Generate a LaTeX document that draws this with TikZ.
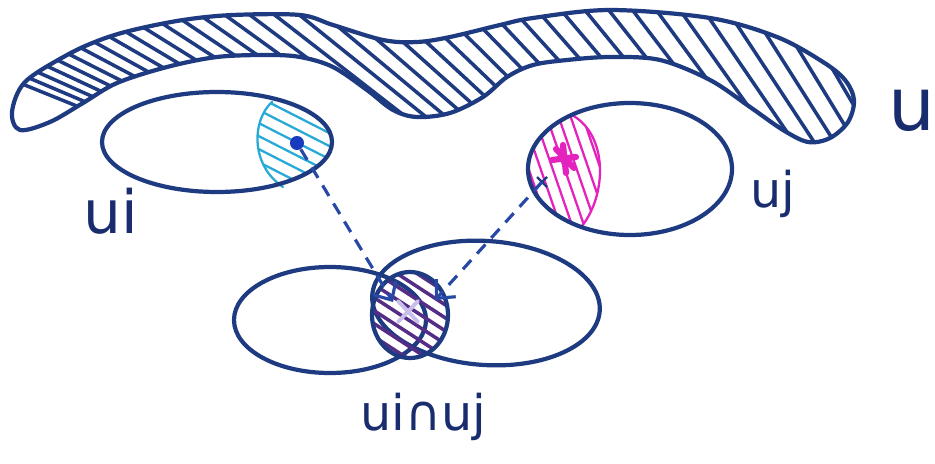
\documentclass[tikz,border=0pt]{standalone}
\usepackage{fontspec}
\setmainfont{DejaVu Sans}
\usetikzlibrary{arrows.meta}

\definecolor{ink}{RGB}{30,58,128}
\definecolor{inkdash}{RGB}{40,72,165}
\definecolor{labelink}{RGB}{25,45,110}
\definecolor{cyanhatch}{RGB}{40,170,215}
\definecolor{dotblue}{RGB}{25,60,190}
\definecolor{magentahatch}{RGB}{228,35,190}
\definecolor{purplehatch}{RGB}{85,45,135}
\definecolor{lavender}{RGB}{200,190,235}

\begin{document}
\begin{tikzpicture}[
  x=0.02cm, y=-0.02cm,
  outline/.style ={draw=ink, line width=2.4pt},
  hatch/.style   ={line width=2pt, line cap=round},
  thinhatch/.style={line width=1.3pt, line cap=round},
  arr/.style     ={-{Straight Barb[length=8pt, width=15pt, line width=1.8pt]}, line width=1.8pt,
                   draw=inkdash, dash pattern=on 7pt off 5pt},
  setlabel/.style={text=labelink, inner sep=0pt}
]
\useasboundingbox (0,0) rectangle (935,463);

%%% ---- BAND u (top) ----------------------------------------------------
\begin{scope}
  \clip plot[smooth cycle, tension=0.55] coordinates {
    (12,112) (25,82) (67,55) (100,40) (133,30) (183,20) (233,15) (300,15)
    (333,25) (383,40) (417,42) (450,37) (500,25) (533,18) (610,10) (710,18)
    (777,37) (823,62) (845,80) (854,100) (848,122) (830,138) (808,142)
    (783,130) (750,107) (710,80) (660,60) (610,57) (567,60) (533,65) (507,77)
    (483,97) (450,113) (417,117) (393,110) (367,90) (333,67) (300,57)
    (267,55) (217,57) (167,67) (117,83) (83,103) (50,122) (20,130)};
  % stripes get steeper from left to right
  \foreach \x in {0,22,...,900} {
    \pgfmathsetmacro{\ang}{22+0.045*\x}
    \draw[hatch, ink] (\x,75) ++(\ang+180:130) -- ++(\ang:260);
  }
\end{scope}
\draw[outline] plot[smooth cycle, tension=0.55] coordinates {
    (12,112) (25,82) (67,55) (100,40) (133,30) (183,20) (233,15) (300,15)
    (333,25) (383,40) (417,42) (450,37) (500,25) (533,18) (610,10) (710,18)
    (777,37) (823,62) (845,80) (854,100) (848,122) (830,138) (808,142)
    (783,130) (750,107) (710,80) (660,60) (610,57) (567,60) (533,65) (507,77)
    (483,97) (450,113) (417,117) (393,110) (367,90) (333,67) (300,57)
    (267,55) (217,57) (167,67) (117,83) (83,103) (50,122) (20,130)};

%%% ---- SET ui (left) ----------------------------------------------------
\coordinate (ui) at (217,142);
\begin{scope}
  \clip (ui) ellipse [x radius=115, y radius=50];
  \clip (272,102) .. controls (252,120) and (250,165) .. (283,187)
        -- (283,210) -- (360,210) -- (360,80) -- (272,80) -- cycle;
  \foreach \k in {0,...,15}
    \draw[thinhatch, cyanhatch] (235,20+13*\k) -- ++(27:150);
\end{scope}
\draw[thinhatch, cyanhatch] (272,102) .. controls (252,120) and (250,165) .. (283,187);
\draw[outline] (ui) ellipse [x radius=115, y radius=50];
\node[circle, fill=dotblue, inner sep=0pt, minimum size=8pt] (dotI) at (297,143) {};

%%% ---- SET uj (right) ---------------------------------------------------
\coordinate (uj) at (630,169);
\begin{scope}
  \clip (uj) ellipse [x radius=102, y radius=66];
  \clip (572,115) .. controls (608,135) and (607,194) .. (582,226)
        -- (582,250) -- (500,250) -- (500,90) -- (572,90) -- cycle;
  \foreach \k in {0,...,14}
    \draw[thinhatch, magentahatch] (450+12*\k,80) -- ++(71:180);
\end{scope}
\draw[thinhatch, magentahatch] (572,115) .. controls (608,135) and (607,194) .. (582,226);
\draw[outline] (uj) ellipse [x radius=102, y radius=66];
% star mark
\draw[magentahatch, line width=3.5pt, line cap=round]
  (563,145) -- (566,173)  (552,160) -- (576,157)  (556,149) -- (574,168);
% small cross where the arrow leaves
\coordinate (crossJ) at (542,182);
\draw[ink, line width=1.3pt] (537,177) -- (547,187) (537,187) -- (547,177);

%%% ---- INTERSECTION ui n uj (bottom) -------------------------------------
\coordinate (lowI)  at (330,320);
\coordinate (lowJ)  at (486,303);
\coordinate (meet)  at (410,315);
\draw[outline] (lowI) ellipse [x radius=96, y radius=53];
\draw[outline, rotate around={-4:(lowJ)}] (lowJ) ellipse [x radius=114, y radius=62];
\begin{scope}
  \clip (meet) ellipse [x radius=38, y radius=43];
  \foreach \k in {0,...,14}
    \draw[hatch, purplehatch] (350,230+13*\k) -- ++(33:150);
\end{scope}
\draw[outline] (meet) ellipse [x radius=38, y radius=43];
\draw[lavender, line width=2.2pt, line cap=round]
  (398,301) -- (418,322)  (418,301) -- (398,322);

%%% ---- ARROWS -----------------------------------------------------------
\coordinate (tipI) at (393,302);
\coordinate (tipJ) at (435,300);
\draw[arr] (dotI) -- (tipI);
\draw[arr] (crossJ) -- (tipJ);

%%% ---- LABELS -----------------------------------------------------------
\node[setlabel, anchor=base west, font=\fontsize{34}{36}\selectfont] (lblI)  at (83,233)  {ui};
\node[setlabel, anchor=base west, font=\fontsize{28}{30}\selectfont] (lblJ)  at (750,207) {uj};
\node[setlabel, anchor=base west, font=\fontsize{42}{44}\selectfont] (lblU)  at (888,130) {u};
\node[setlabel, anchor=base,      font=\fontsize{28}{30}\selectfont] (lblIJ) at (423,430) {ui∩uj};

\end{tikzpicture}
\end{document}
